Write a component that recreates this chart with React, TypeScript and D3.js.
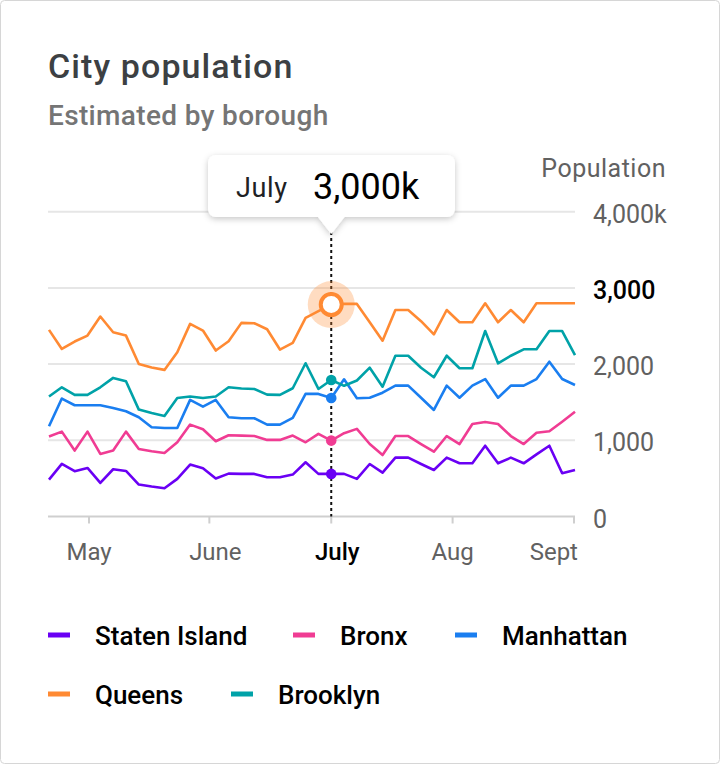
import * as d3 from "d3";

// borough series, one value per sample (thousands)
const statenIsland = [484, 690, 594, 637, 441, 620, 598, 419, 393, 371, 494, 681, 633, 498, 563, 559, 559, 515, 515, 550, 712, 559, 559, 559, 494, 689, 575, 772, 772, 689, 610, 772, 698, 698, 929, 698, 772, 698, 816, 929, 567, 610];
const bronx = [1049, 1114, 865, 1114, 821, 865, 1114, 887, 856, 834, 974, 1206, 1145, 987, 1066, 1062, 1057, 1005, 1005, 1062, 974, 1084, 996, 1093, 1150, 951, 807, 1056, 1056, 951, 850, 1056, 951, 1214, 1240, 1214, 1056, 951, 1100, 1118, 1244, 1375];
const manhattan = [1184, 1548, 1460, 1460, 1460, 1425, 1381, 1302, 1171, 1162, 1162, 1530, 1442, 1530, 1302, 1289, 1289, 1206, 1206, 1294, 1609, 1609, 1556, 1800, 1552, 1559, 1625, 1717, 1717, 1559, 1398, 1717, 1559, 1717, 1804, 1559, 1717, 1717, 1804, 2031, 1804, 1726];
const queens = [2449, 2199, 2296, 2374, 2624, 2418, 2374, 2002, 1955, 1924, 2156, 2528, 2440, 2178, 2300, 2541, 2536, 2458, 2191, 2278, 2606, 2694, 2781, 2790, 2790, 2550, 2307, 2710, 2710, 2563, 2391, 2710, 2549, 2549, 2798, 2549, 2710, 2549, 2798, 2798, 2798, 2798];
const brooklyn = [1574, 1696, 1596, 1596, 1696, 1819, 1775, 1403, 1357, 1320, 1556, 1574, 1556, 1574, 1696, 1679, 1674, 1600, 1596, 1683, 2011, 1674, 1792, 1715, 1785, 1953, 1703, 2110, 2110, 1953, 1827, 2110, 1945, 1945, 2434, 2010, 2110, 2194, 2194, 2434, 2434, 2119];

const seriesNames = ["Staten Island", "Bronx", "Manhattan", "Queens", "Brooklyn"];
const seriesColors = ["#6a00f4", "#f03c93", "#1a7ef0", "#ff8a33", "#00a2a8"];
const seriesValues = [statenIsland, bronx, manhattan, queens, brooklyn];

// month ticks, placed in sample-index units
const monthLabels = ["May", "June", "July", "Aug", "Sept"];
const monthAt = [3.12, 12.5, 22, 31.46, 40.92];

const yTicks = [0, 1000, 2000, 3000, 4000];
const yTickLabels = ["0", "1,000", "2,000", "3,000", "4,000k"];

const focusIndex = 22;
const focusMonth = "July";
const focusLabel = "3,000k";
const highlightTick = 3000;

const W = 720;
const H = 764;
const FONT = "Roboto, sans-serif";

// legend flow rows (layout only)
const legendRows = [
  [{ s: 0, x: 48 }, { s: 1, x: 293 }, { s: 2, x: 455 }],
  [{ s: 3, x: 48 }, { s: 4, x: 231 }],
];
const legendY = [635, 694];

export default function App() {
  const x = d3.scaleLinear().domain([0, statenIsland.length - 1]).range([49, 575]);
  const y = d3.scaleLinear().domain([0, 4000]).range([516.5, 211.7]);

  const line = d3
    .line<number>()
    .x((_, i) => x(i))
    .y((d) => y(d));

  const fx = x(focusIndex);
  const qy = y(queens[focusIndex]);

  return (
    <div style={{ position: "absolute", left: 0, top: 0 }}>
      <svg width={W} height={H} style={{ display: "block", fontFamily: FONT }}>
        <defs>
          <filter id="shadow" x="-20%" y="-40%" width="140%" height="180%">
            <feDropShadow dx="0" dy="2" stdDeviation="3" floodColor="#000" floodOpacity="0.22" />
          </filter>
        </defs>
        <rect x={0.5} y={0.5} width={W - 1} height={H - 1} rx={4} fill="#fff" stroke="#d6d6d6" />

        <text x={48} y={78} fontSize={34} fontWeight={500} fill="#3c4043" letterSpacing={1.1}>
          City population
        </text>
        <text x={48} y={125} fontSize={28} fontWeight={500} fill="#757575" letterSpacing={0.35}>
          Estimated by borough
        </text>

        {/* grid */}
        {yTicks.slice(1).map((t) => (
          <line key={t} x1={48} x2={575} y1={y(t)} y2={y(t)} stroke="#e6e6e6" strokeWidth={2} />
        ))}
        <line x1={48} x2={575} y1={y(0)} y2={y(0)} stroke="#cfcfcf" strokeWidth={2} />
        {monthAt.map((m, i) => (
          <line key={i} x1={x(m)} x2={x(m)} y1={y(0)} y2={y(0) + 7} stroke="#cfcfcf" strokeWidth={2} />
        ))}

        {/* y labels */}
        <text x={666} y={176.5} fontSize={25} fill="#616161" textAnchor="end" letterSpacing={0.5}>
          Population
        </text>
        {yTicks.map((t, i) => (
          <text
            key={t}
            x={593}
            y={y(t) + 11}
            fontSize={25}
            fill={t === highlightTick ? "#000" : "#616161"}
            fontWeight={t === highlightTick ? 500 : 400}
          >
            {yTickLabels[i]}
          </text>
        ))}

        {/* month labels */}
        {monthLabels.map((m, i) => {
          const last = i === monthLabels.length - 1;
          const on = m === focusMonth;
          return (
            <text
              key={m}
              x={last ? x(monthAt[i]) + 4 : x(monthAt[i]) + (m.startsWith("J") ? 6 : 0)}
              y={560}
              fontSize={24}
              textAnchor={last ? "end" : "middle"}
              fill={on ? "#000" : "#616161"}
              fontWeight={on ? 500 : 400}
            >
              {m}
            </text>
          );
        })}

        {/* series */}
        {seriesValues.map((vals, i) => (
          <path
            key={seriesNames[i]}
            d={line(vals) || ""}
            fill="none"
            stroke={seriesColors[i]}
            strokeWidth={2.6}
            strokeLinejoin="round"
          />
        ))}

        {/* focus */}
        <line x1={fx} x2={fx} y1={232} y2={y(0)} stroke="#111" strokeWidth={2} strokeDasharray="3,3" />
        {seriesValues.map((vals, i) =>
          i === 3 ? null : (
            <circle key={i} cx={fx} cy={y(vals[focusIndex])} r={5.3} fill={seriesColors[i]} />
          )
        )}
        <circle cx={fx} cy={qy} r={23.5} fill={seriesColors[3]} opacity={0.3} />
        <circle cx={fx} cy={qy} r={10.5} fill="#fff" stroke={seriesColors[3]} strokeWidth={4} />

        {/* tooltip */}
        <g filter="url(#shadow)">
          <rect x={208} y={155} width={247} height={62} rx={8} fill="#fff" />
          <path d={`M${fx - 14},216 L${fx},234 L${fx + 14},216 Z`} fill="#fff" />
        </g>
        <text x={236} y={197} fontSize={27} fill="#202124" letterSpacing={0.6}>
          {focusMonth}
        </text>
        <text x={313} y={199} fontSize={36} fill="#000">
          {focusLabel}
        </text>

        {/* legend */}
        {legendRows.map((row, r) =>
          row.map((it) => (
            <g key={it.s} transform={`translate(${it.x},${legendY[r]})`}>
              <rect x={0} y={-2.5} width={22} height={5} fill={seriesColors[it.s]} />
              <text x={47} y={9.5} fontSize={26} fontWeight={500} fill="#000">
                {seriesNames[it.s]}
              </text>
            </g>
          ))
        )}
      </svg>
    </div>
  );
}
